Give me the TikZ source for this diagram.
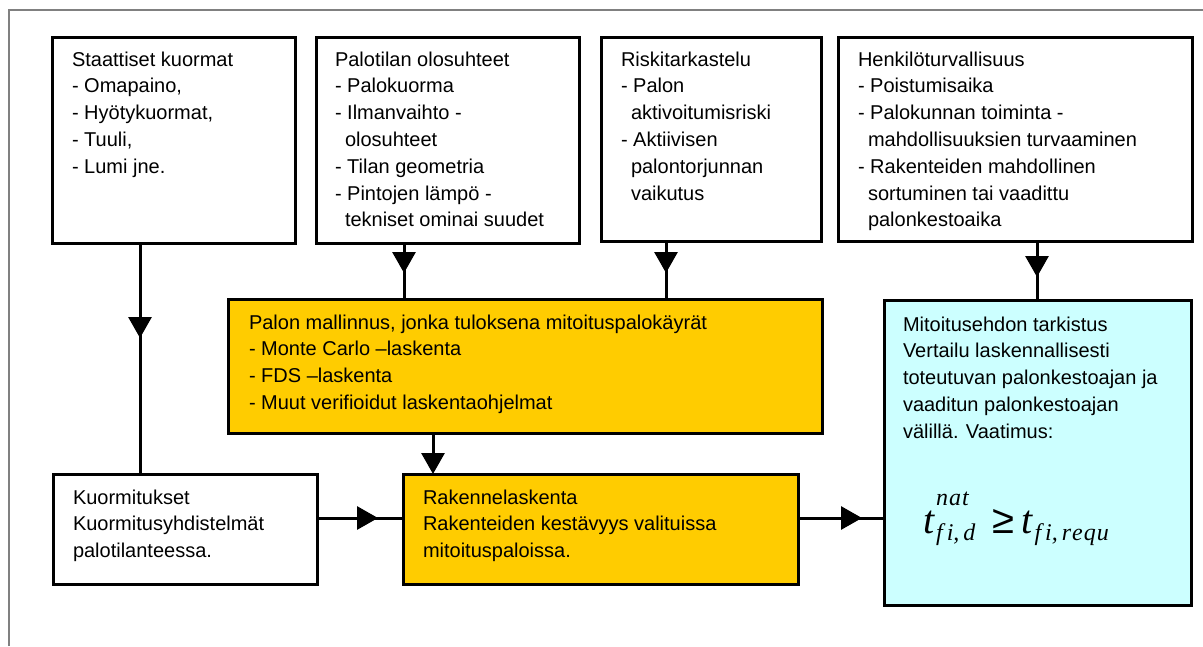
\documentclass[tikz,border=0pt]{standalone}
\usepackage[no-math]{fontspec}
\setmainfont{Liberation Sans}
\newfontfamily\tnr{Liberation Serif}
\usetikzlibrary{arrows.meta,decorations.markings}
\definecolor{boxyellow}{HTML}{FFCC00}
\definecolor{boxcyan}{HTML}{CCFFFF}
\definecolor{framegray}{HTML}{808080}
\newcommand{\cind}{\hspace*{10pt}}
\newcommand{\bigt}{{\tnr\itshape\fontsize{40}{40}\selectfont t}}
\newcommand{\scr}[1]{{\tnr\itshape\fontsize{24}{24}\selectfont #1}}
\begin{document}
\begin{tikzpicture}[x=1pt,y=-1pt,
  box/.style={draw=black, line width=3pt, anchor=north west, inner sep=0pt, outer sep=0pt},
  txt/.style={anchor=base west, inner sep=0pt, outer sep=0pt, font=\fontsize{20}{26.8}\selectfont, text=black},
  conn/.style={draw=black, line width=3pt},
  tipat/.style={postaction={decorate}, decoration={markings, mark=at position #1 with {\arrow{Triangle[width=23pt,length=21pt]}}}},
]
\useasboundingbox (0,0) rectangle (1203,646);
\fill[white] (0,0) rectangle (1203,646);
% outer frame
\draw[framegray, line width=1.5pt] (9,646) -- (9,10) -- (1203,10);

% boxes
\node[box, minimum width=243pt, minimum height=206pt] (B1) at (52,37) {};
\node[box, minimum width=263pt, minimum height=206pt] (B2) at (316,37) {};
\node[box, minimum width=220pt, minimum height=204pt] (B3) at (601,37) {};
\node[box, minimum width=354pt, minimum height=204pt] (B4) at (838,37) {};
\node[box, fill=boxyellow, minimum width=594pt, minimum height=134pt] (Y1) at (228,299) {};
\node[box, fill=boxcyan, minimum width=307pt, minimum height=305pt] (C) at (884,300) {};
\node[box, minimum width=264pt, minimum height=110pt] (B5) at (53,474) {};
\node[box, fill=boxyellow, minimum width=395pt, minimum height=110pt] (Y2) at (403,474) {};

% texts
\node[txt] (B1t) at ([shift={(20,29)}]B1.north west) {\parbox[t]{220pt}{Staattiset kuormat\\- Omapaino,\\- Hyötykuormat,\\- Tuuli,\\- Lumi jne.}};
\node[txt] (B2t) at ([shift={(19,29)}]B2.north west) {\parbox[t]{240pt}{Palotilan olosuhteet\\- Palokuorma\\- Ilmanvaihto -\\\cind olosuhteet\\- Tilan geometria\\- Pintojen lämpö -\\\cind tekniset ominai suudet}};
\node[txt] (B3t) at ([shift={(20,29)}]B3.north west) {\parbox[t]{200pt}{Riskitarkastelu\\- Palon\\\cind aktivoitumisriski\\- Aktiivisen\\\cind palontorjunnan\\\cind vaikutus}};
\node[txt] (B4t) at ([shift={(20,29)}]B4.north west) {\parbox[t]{330pt}{Henkilöturvallisuus\\- Poistumisaika\\- Palokunnan toiminta -\\\cind mahdollisuuksien turvaaminen\\- Rakenteiden mahdollinen\\\cind sortuminen tai vaadittu\\\cind palonkestoaika}};
\node[txt] (Y1t) at ([shift={(21,30)}]Y1.north west) {\parbox[t]{560pt}{Palon mallinnus, jonka tuloksena mitoituspalokäyrät\\- Monte Carlo –laskenta\\- FDS –laskenta\\- Muut verifioidut laskentaohjelmat}};
\node[txt] (Ct) at ([shift={(19,31)}]C.north west) {\parbox[t]{285pt}{Mitoitusehdon tarkistus\\Vertailu laskennallisesti\\toteutuvan palonkestoajan ja\\vaaditun palonkestoajan\\välillä. Vaatimus:}};
\node[txt] (B5t) at ([shift={(20,30)}]B5.north west) {\parbox[t]{240pt}{Kuormitukset\\Kuormitusyhdistelmät\\palotilanteessa.}};
\node[txt] (Y2t) at ([shift={(20,30)}]Y2.north west) {\parbox[t]{370pt}{Rakennelaskenta\\Rakenteiden kestävyys valituissa\\mitoituspaloissa.}};

% formula
\node[anchor=base west, inner sep=0pt, outer sep=0pt] (F) at ([shift={(39,233)}]C.north west) {%
\bigt\kern2pt%
\rlap{\raisebox{28pt}{\scr{n\kern1pt a\kern1pt t}}}%
\raisebox{-7pt}{\scr{f\kern4pt i,\kern4pt d}}%
\hspace{17pt}{\fontsize{40}{40}\selectfont ≥}\hspace{7pt}%
\bigt\kern2pt%
\raisebox{-7pt}{\scr{f\kern4pt i,\kern4pt r\kern1pt e\kern1pt q\kern1pt u}}};

% connectors
\path[conn, tipat=95pt] (B1.south -| 140,0) -- (B5.north -| 140,0);
\path[conn, tipat=30pt] (B2.south -| 404,0) -- (Y1.north -| 404,0);
\path[conn, tipat=32pt] (B3.south -| 666,0) -- (Y1.north -| 666,0);
\path[conn, tipat=36pt] (B4.south -| 1037,0) -- (C.north -| 1037,0);
\draw[conn, -{Triangle[width=23pt,length=21pt]}] (Y1.south -| 433,0) -- (Y2.north -| 433,0);
\path[conn, tipat=61pt] (B5.east |- 0,518) -- (Y2.west |- 0,518);
\path[conn, tipat=64pt] (Y2.east |- 0,518) -- (C.west |- 0,518);
\end{tikzpicture}
\end{document}
